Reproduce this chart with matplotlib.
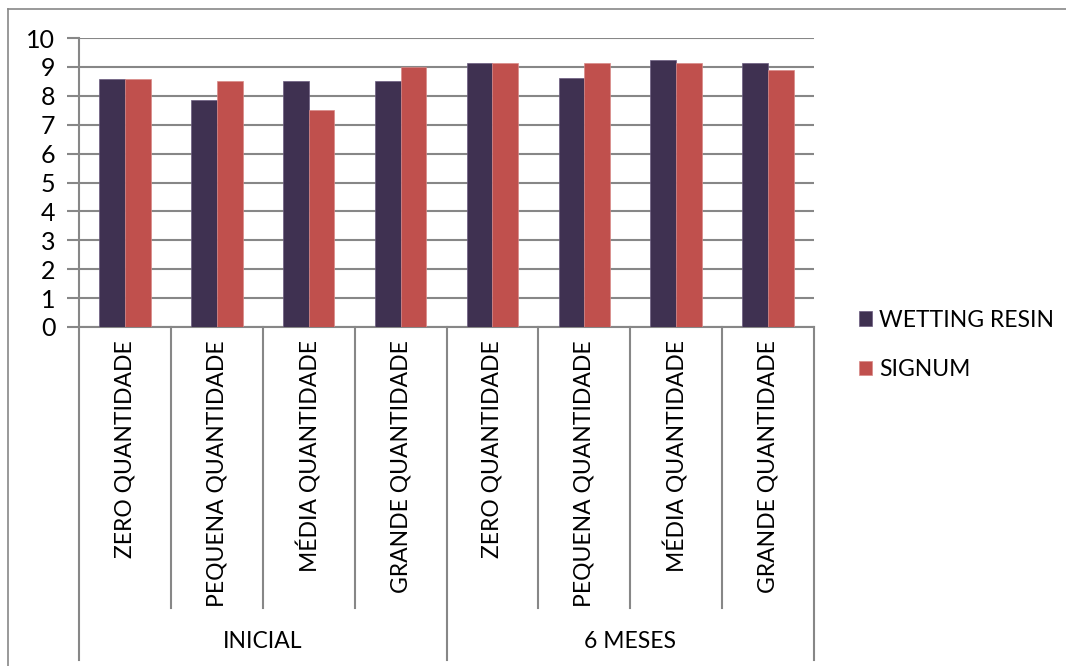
import numpy as np
import matplotlib.pyplot as plt

# data
categories = ['ZERO QUANTIDADE', 'PEQUENA QUANTIDADE', 'MÉDIA QUANTIDADE', 'GRANDE QUANTIDADE',
              'ZERO QUANTIDADE', 'PEQUENA QUANTIDADE', 'MÉDIA QUANTIDADE', 'GRANDE QUANTIDADE']
groups = ['INICIAL', '6 MESES']
wetting_resin = [8.57, 7.86, 8.5, 8.5, 9.14, 8.62, 9.25, 9.12]
signum = [8.57, 8.5, 7.5, 9.0, 9.14, 9.12, 9.12, 8.88]

plt.rcParams['font.family'] = ['Lato', 'DejaVu Sans']
fs = 16.5
grey = '#878787'

fig = plt.figure(figsize=(10.66, 6.66), dpi=100)
W, H = 1066, 666

# outer chart border (left and top only visible)
fig.add_artist(plt.Line2D([7.5 / W, 7.5 / W], [0, 1 - 9 / H], color=grey, lw=1.2))
fig.add_artist(plt.Line2D([7.5 / W, 1], [1 - 9 / H, 1 - 9 / H], color=grey, lw=1.2))

x0, x1, ytop, ybot = 79, 814, 38, 327
ax = fig.add_axes([x0 / W, 1 - ybot / H, (x1 - x0) / W, (ybot - ytop) / H])

x = np.arange(len(categories))
bw = 0.28
ax.bar(x - bw / 2, wetting_resin, bw, color='#3F3151', edgecolor='#6b5c80', linewidth=0.5,
       label='WETTING RESIN', zorder=3)
ax.bar(x + bw / 2, signum, bw, color='#C0504D', edgecolor='#d98a88', linewidth=0.5,
       label='SIGNUM', zorder=3)

ax.set_xlim(-0.5, len(categories) - 0.5)
ax.set_ylim(0, 10)
ax.set_yticks(range(0, 11))
ax.tick_params(axis='y', labelsize=18, length=9, width=1.5, color=grey, pad=8, direction='out')
ax.set_xticks([])
ax.yaxis.grid(True, color=grey, lw=1.5, zorder=0)
for s in ['top', 'right']:
    ax.spines[s].set_visible(False)
for s in ['left', 'bottom']:
    ax.spines[s].set_color(grey)
    ax.spines[s].set_linewidth(1.5)

# two-level category axis
trans = ax.get_xaxis_transform()
scale = ybot - ytop
y_inner = -(608 - ybot) / scale
y_outer = -(660 - ybot) / scale
for b in np.arange(-0.5, len(categories), 1.0):
    bottom = y_outer if b in (-0.5, 3.5, 7.5) else y_inner
    ax.plot([b, b], [0, bottom], color=grey, lw=1.5, transform=trans, clip_on=False)

for i, c in enumerate(categories):
    ax.text(i, -(340 - ybot) / scale, c, rotation=90, ha='center', va='top',
            fontsize=fs, transform=trans)

for g, name in enumerate(groups):
    ax.text(g * 4 + 1.5, -(642 - ybot) / scale, name, ha='center', va='center',
            fontsize=fs, transform=trans)

leg = fig.legend(loc='upper left', bbox_to_anchor=(838 / W, 1 - 289 / H), frameon=False,
                 fontsize=fs, handlelength=0.6, handleheight=0.6, handletextpad=0.3,
                 labelspacing=1.25)

fig.savefig('out.png', dpi=100)
